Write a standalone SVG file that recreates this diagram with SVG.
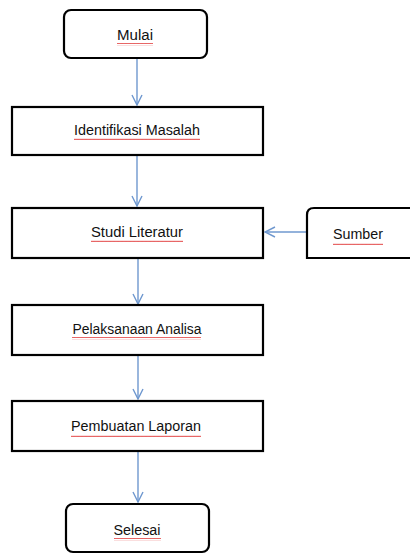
<svg xmlns="http://www.w3.org/2000/svg" width="410" height="554" viewBox="0 0 410 554">
<defs>
<marker id="ah" viewBox="0 0 12 12" refX="11" refY="6" markerWidth="12" markerHeight="12" markerUnits="userSpaceOnUse" orient="auto">
<path d="M1,1 L11,6 L1,11" fill="none" stroke="#6f98cf" stroke-width="1.4"/>
</marker>
<pattern id="wave" width="4" height="3" patternUnits="userSpaceOnUse">
<path d="M0,2 L1,0.8 L2,2 L3,0.8 L4,2" fill="none" stroke="#e03030" stroke-width="0.8"/>
</pattern>
<style>
.box{fill:#fff;stroke:#000;stroke-width:2.2}
.lbl{font-family:"Liberation Sans",Arial,sans-serif;font-size:14px;fill:#111;text-anchor:middle;dominant-baseline:central}
.conn{stroke:#6f98cf;stroke-width:1.4;fill:none;marker-end:url(#ah)}
.sq{fill:url(#wave)}
</style>
</defs>
<rect width="410" height="554" fill="#fff"/>
<g id="connectors">
<line class="conn" x1="137" y1="59" x2="137" y2="105"/>
<line class="conn" x1="137" y1="156" x2="137" y2="206"/>
<line class="conn" x1="307" y1="232" x2="265" y2="232"/>
<line class="conn" x1="138" y1="259" x2="138" y2="304"/>
<line class="conn" x1="138" y1="356" x2="138" y2="399"/>
<line class="conn" x1="138" y1="452" x2="138" y2="502"/>
</g>
<g id="mulai">
<rect class="box" x="64" y="10" width="143" height="48" rx="7"/>
<text class="lbl" x="135" y="35" textLength="36" lengthAdjust="spacingAndGlyphs">Mulai</text>
<rect class="sq" x="117" y="43" width="36" height="3"/>
</g>
<g id="identifikasi">
<rect class="box" x="12" y="107" width="251" height="48"/>
<text class="lbl" x="137" y="130" textLength="126" lengthAdjust="spacingAndGlyphs">Identifikasi Masalah</text>
<rect class="sq" x="74" y="138" width="126" height="3"/>
</g>
<g id="studi">
<rect class="box" x="12" y="208" width="251" height="50"/>
<text class="lbl" x="137" y="232" textLength="92" lengthAdjust="spacingAndGlyphs">Studi Literatur</text>
<rect class="sq" x="91" y="240" width="92" height="3"/>
</g>
<g id="sumber">
<path class="box" d="M412,208 L314,208 Q307,208 307,215 L307,258 L412,258"/>
<text class="lbl" x="358" y="234" textLength="50" lengthAdjust="spacingAndGlyphs">Sumber</text>
<rect class="sq" x="333" y="242" width="50" height="3"/>
</g>
<g id="pelaksanaan">
<rect class="box" x="12" y="305" width="251" height="50"/>
<text class="lbl" x="137" y="329" textLength="129" lengthAdjust="spacingAndGlyphs">Pelaksanaan Analisa</text>
<rect class="sq" x="72" y="337" width="129" height="3"/>
</g>
<g id="pembuatan">
<rect class="box" x="12" y="401" width="251" height="50"/>
<text class="lbl" x="136" y="426" textLength="130" lengthAdjust="spacingAndGlyphs">Pembuatan Laporan</text>
<rect class="sq" x="71" y="434" width="130" height="3"/>
</g>
<g id="selesai">
<rect class="box" x="66" y="504" width="143" height="48" rx="7"/>
<text class="lbl" x="137" y="530" textLength="47" lengthAdjust="spacingAndGlyphs">Selesai</text>
<rect class="sq" x="114" y="538" width="47" height="3"/>
</g>
</svg>
